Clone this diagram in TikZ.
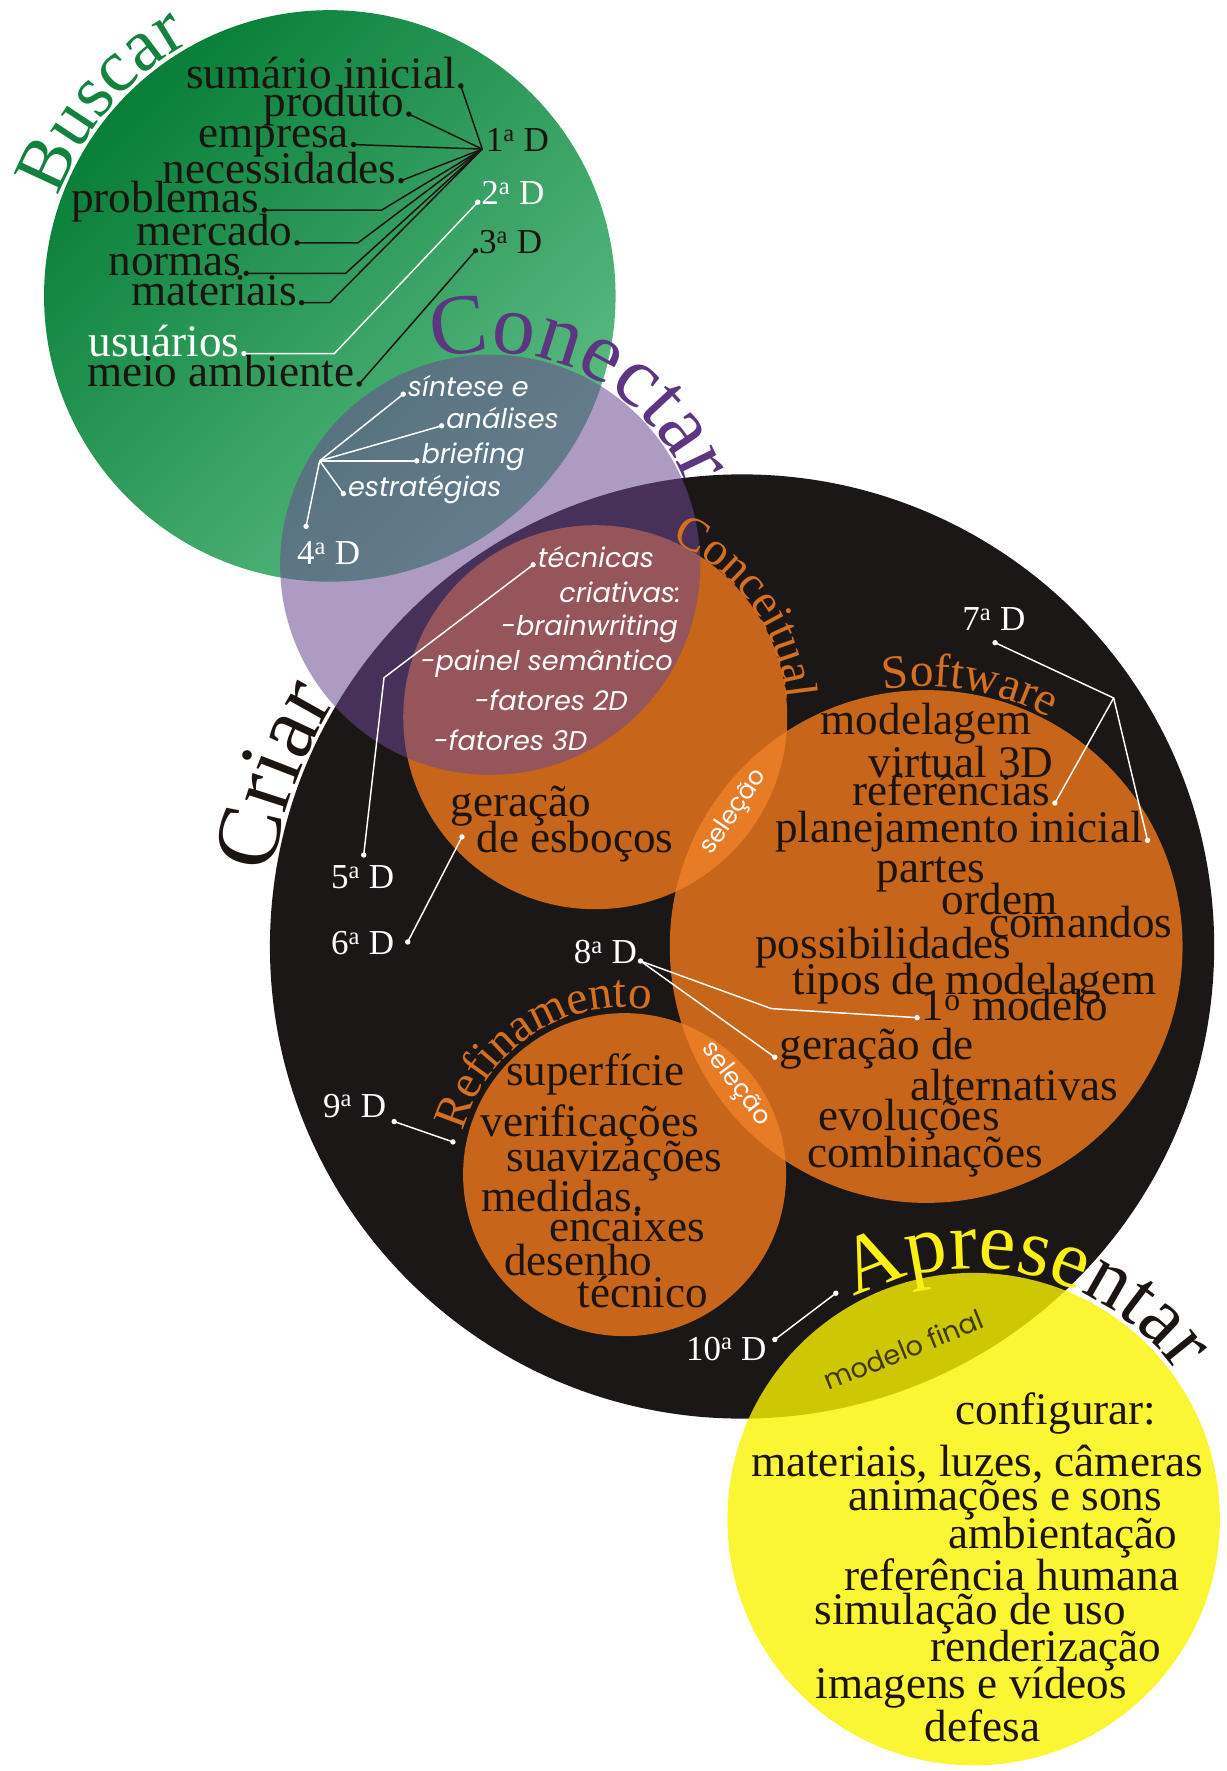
\documentclass[tikz,border=0pt]{standalone}
\usepackage{fontspec}
\setmainfont{Liberation Serif}
\newfontfamily\gothic{Poppins}
\usetikzlibrary{decorations.text}

\definecolor{ink}{RGB}{28,20,16}
\definecolor{greenA}{RGB}{8,126,56}
\definecolor{greenB}{RGB}{92,188,132}
\definecolor{buscarc}{RGB}{18,130,62}
\definecolor{crust}{RGB}{27,23,23}
\definecolor{orng}{RGB}{199,101,26}
\definecolor{lens}{RGB}{232,124,38}
\definecolor{lilac}{RGB}{108,72,146}
\definecolor{conc}{RGB}{92,54,128}
\definecolor{ortitle}{RGB}{214,112,30}
\definecolor{ylw}{RGB}{250,244,0}
\definecolor{aprese}{RGB}{250,240,20}
\definecolor{olivetxt}{RGB}{62,58,0}

\newcommand{\ord}{\textsuperscript{a}}

\begin{document}
\begin{tikzpicture}[x=1pt,y=-1pt,
  item/.style={font=\fontsize{40}{40}\selectfont, text=ink, inner xsep=4pt, inner ysep=0pt},
  dlab/.style={font=\fontsize{31}{31}\selectfont, inner xsep=3pt, inner ysep=0pt},
  wit/.style={font=\gothic\itshape\fontsize{24}{24}\selectfont, text=white, inner xsep=4pt, inner ysep=0pt},
  wl/.style={draw=white, line width=1.3pt},
  bl/.style={draw=ink, line width=1.3pt},
  sel/.style={font=\gothic\fontsize{22}{22}\selectfont, text=white, inner sep=0pt},
]
\useasboundingbox (0,0) rectangle (1086,1568);

% circle centres
\coordinate (G) at (292,262);
\coordinate (P) at (434,500);
\coordinate (B) at (657,838);
\coordinate (C) at (527,635);
\coordinate (S) at (820,838);
\coordinate (R) at (553,1040);
\coordinate (A) at (862,1345);

% discs
\shade[top color=greenA, bottom color=greenB, shading angle=45] (G) circle[radius=253];
\fill[crust] (B) circle[radius=418];
\fill[orng] (C) circle[radius=170] (S) circle[radius=227] (R) circle[radius=143];
\begin{scope}
  \clip (S) circle[radius=227];
  \fill[lens] (C) circle[radius=170] (R) circle[radius=143];
\end{scope}
\fill[lilac, fill opacity=0.55] (P) circle[radius=186];
\fill[ylw, fill opacity=0.8] (A) circle[radius=218];

% curved titles
\path[decorate, decoration={text along path, text align=center, text color=buscarc,
  text={|\fontsize{66}{66}\selectfont|Buscar}}]
  (G) ++(-179.5:256) arc[start angle=-179.5, end angle=-99.5, radius=256];
\path[decorate, decoration={text along path, text align=center, text color=conc,
  text={|\fontsize{76}{76}\selectfont|Conectar}}]
  (P) ++(-123.5:188) arc[start angle=-123.5, end angle=-3.5, radius=188];
\path[decorate, decoration={text along path, text align=center, text color=ortitle,
  text={|\fontsize{42}{42}\selectfont|Conceitual}}]
  (C) ++(-86:170) arc[start angle=-86, end angle=14, radius=170];
\path[decorate, decoration={text along path, text align=center, text color=ink,
  text={|\fontsize{80}{80}\selectfont|Criar}}]
  (B) ++(-185:421) arc[start angle=-185, end angle=-135, radius=421];
\path[decorate, decoration={text along path, text align=center, text color=ortitle,
  text={|\fontsize{42}{42}\selectfont|Software}}]
  (S) ++(-115.5:230) arc[start angle=-115.5, end angle=-45.5, radius=230];
\path[decorate, decoration={text along path, text align=center, text color=ortitle,
  text={|\fontsize{42}{42}\selectfont|Refinamento}}]
  (R) ++(-183:148) arc[start angle=-183, end angle=-63, radius=148];
\path[decorate, decoration={text along path, text align=center,
  text={|\fontsize{73}{73}\selectfont\color{aprese}|Aprese|\fontsize{73}{73}\selectfont\color{ink}|ntar}}]
  (A) ++(-137:222) arc[start angle=-137, end angle=-17, radius=222];

% Buscar
\node[item, anchor=mid east] (sum) at (408,76) {sumário inicial};
\node[item, anchor=mid east] (prod) at (362,101) {produto};
\node[item, anchor=mid east] (emp) at (313,128) {empresa};
\node[item, anchor=mid east] (nec) at (355,160) {necessidades};
\node[item, anchor=mid east] (prob) at (234,186) {problemas};
\node[item, anchor=mid east] (merc) at (263,215) {mercado};
\node[item, anchor=mid east] (norm) at (218,242) {normas};
\node[item, anchor=mid east] (mat) at (267,268) {materiais};
\node[item, anchor=mid east, text=white] (usu) at (216,313) {usuários};
\node[item, anchor=mid east] (meio) at (318,340) {meio ambiente};
\node[dlab, anchor=mid west, text=ink] (D1) at (427,132) {1\ord~D};
\node[dlab, anchor=mid west, text=white] (D2) at (423,179) {2\ord~D};
\node[dlab, anchor=mid west, text=ink] (D3) at (421,222) {3\ord~D};

\draw[bl] (sum.mid east) -- (D1.mid west);
\draw[bl] (prod.mid east) -- (D1.mid west);
\draw[bl] (emp.mid east) -- (D1.mid west);
\draw[bl] (nec.mid east) -- (D1.mid west);
\draw[bl] (prob.mid east) -- ++(104,0) -- (D1.mid west);
\draw[bl] (merc.mid east) -- ++(54,0) -- (D1.mid west);
\draw[bl] (norm.mid east) -- ++(88,0) -- (D1.mid west);
\draw[bl] (mat.mid east) -- ++(25,0) -- (D1.mid west);
\draw[wl] (usu.mid east) -- ++(80,0) -- (D2.mid west);
\draw[bl] (meio.mid east) -- (D3.mid west);

% Conectar
\node[wit, anchor=mid west] (sin) at (357,349) {síntese e};
\node[wit, anchor=mid west] (ana) at (391,377) {análises};
\node[wit, anchor=mid west] (bri) at (369,408) {briefing};
\node[wit, anchor=mid west] (est) at (304,437) {estratégias};
\node[dlab, text=white] (D4) at (291,490) {4\ord~D};
\coordinate (h4) at (283,408);
\coordinate (p4) at (271,466);
\draw[wl] (p4) -- (h4) -- (sin.mid west);
\draw[wl] (h4) -- (ana.mid west);
\draw[wl] (h4) -- (bri.mid west);
\draw[wl] (h4) -- (est.mid west);

% Conceitual
\node[wit, anchor=mid west] (tec) at (472,500) {técnicas};
\node[wit] (cri) at (549,524) {criativas:};
\node[wit] (bw) at (522,557) {-brainwriting};
\node[wit] (ps) at (484,588) {-painel semântico};
\node[wit] (f2) at (488,620) {-fatores 2D};
\node[wit] (f3) at (452,655) {-fatores 3D};
\node[item] (ger) at (461,714) {geração};
\node[item] (esb) at (509,745) {de esboços};
\coordinate (pe) at (409,741);
\node[dlab, text=white] (D5) at (321,777) {5\ord~D};
\coordinate (p5) at (322,757);
\draw[wl] (p5) -- (340,600) -- (tec.mid west);
\node[dlab, text=white] (D6) at (321,835) {6\ord~D};
\coordinate (p6) at (361,834);
\draw[wl] (p6) -- (pe);

% Software
\node[dlab, text=white] (D7) at (880,548) {7\ord~D};
\coordinate (p7) at (881,569);
\coordinate (h7) at (986,618);
\node[item] (mdl) at (820,641) {modelagem};
\node[item] (vir) at (851,675) {virtual 3D};
\node[item, anchor=mid east] (refs) at (934,711) {referências};
\node[item, anchor=mid east] (plan) at (1016,744) {planejamento inicial};
\node[item] (par) at (824,774) {partes};
\node[item] (orde) at (885,796) {ordem};
\node[item] (com) at (957,816) {comandos};
\node[item] (pos) at (782,839) {possibilidades};
\node[item] (tip) at (863,871) {tipos de modelagem};
\node[item, anchor=mid west] (mod1) at (812,901) {1\textsuperscript{o} modelo};
\node[item, anchor=mid west] (gen) at (686,936) {geração de};
\node[item] (alt) at (898,961) {alternativas};
\node[item] (evo) at (805,991) {evoluções};
\node[item] (comb) at (819,1024) {combinações};
\draw[wl] (p7) -- (h7) -- (refs.mid east);
\draw[wl] (h7) -- (plan.mid east);
\node[dlab, text=white] (D8) at (536,843) {8\ord~D};
\draw[wl] (D8.mid east) -- (683,893) -- (mod1.mid west);
\draw[wl] (D8.mid east) -- (gen.mid west);

% Refinamento
\node[item] (supf) at (527,951) {superfície};
\node[item] (ver) at (522,996) {verificações};
\node[item] (suav) at (544,1028) {suavizações};
\node[item] (med) at (498,1059) {medidas.};
\node[item] (enc) at (555,1086) {encaixes};
\node[item] (des) at (512,1116) {desenho};
\node[item] (tcn) at (569,1144) {técnico};
\node[dlab, text=white] (D9) at (314,979) {9\ord~D};
\coordinate (p9) at (349,993);
\coordinate (q9) at (401,1011);
\draw[wl] (p9) -- (q9);

% selection lenses and final model
\node[sel, rotate=56] (sel1) at (650,719) {seleção};
\node[sel, rotate=-53] (sel2) at (651,960) {seleção};
\node[font=\gothic\fontsize{24}{24}\selectfont, text=olivetxt, rotate=22, inner sep=0pt] (mf) at (800,1195) {modelo final};

% Apresentar
\node[dlab, text=white] (D10) at (643,1194) {10\ord~D};
\coordinate (p10) at (686,1186);
\coordinate (q10) at (740,1145);
\draw[wl] (p10) -- (q10);
\node[item] (cfg) at (935,1251) {configurar:};
\node[item] (mlc) at (865,1296) {materiais, luzes, câmeras};
\node[item] (ani) at (890,1328) {animações e sons};
\node[item] (amb) at (941,1361) {ambientação};
\node[item] (hum) at (896,1394) {referência humana};
\node[item] (sim) at (859,1429) {simulação de uso};
\node[item] (ren) at (926,1461) {renderização};
\node[item] (img) at (860,1494) {imagens e vídeos};
\node[item] (def) at (870,1528) {defesa};

% connector dots
\foreach \p in {sum.mid east, prod.mid east, emp.mid east, nec.mid east,
  prob.mid east, merc.mid east, norm.mid east, mat.mid east, meio.mid east, D3.mid west}
  \fill[ink] (\p) circle[radius=2.4];
\foreach \p in {usu.mid east, D2.mid west, sin.mid west, ana.mid west, bri.mid west,
  est.mid west, p4, p5, tec.mid west, p6, pe, p7, refs.mid east, plan.mid east,
  D8.mid east, mod1.mid west, gen.mid west, p9, q9, p10, q10}
  \fill[white] (\p) circle[radius=2.4];
\end{tikzpicture}
\end{document}
